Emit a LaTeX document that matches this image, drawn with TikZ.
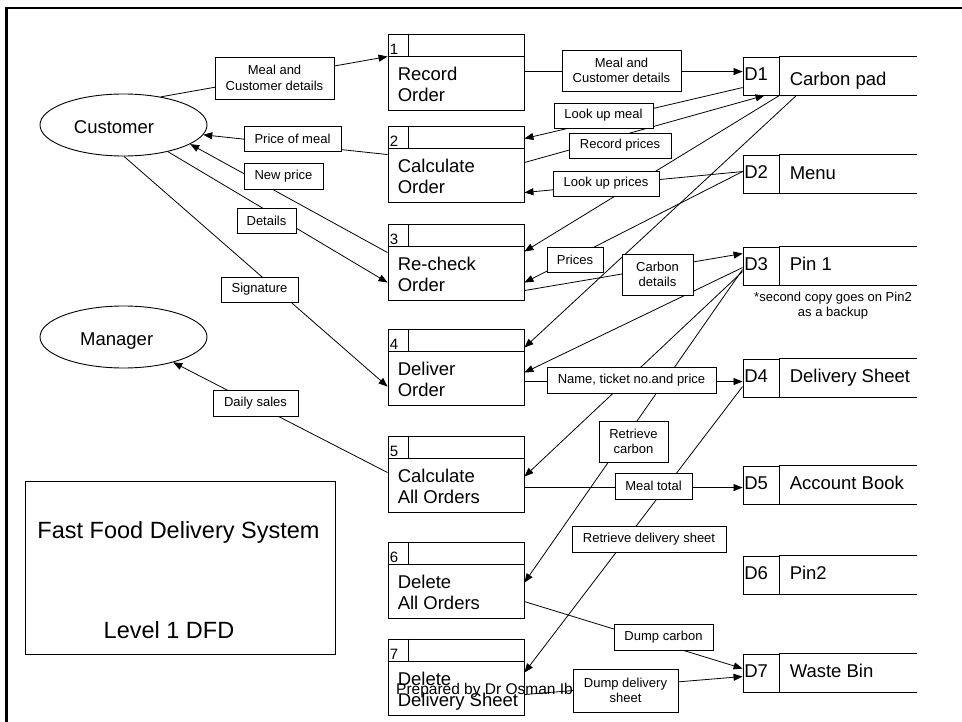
\documentclass[tikz,border=0pt]{standalone}
\usepackage{fontspec}
\setmainfont{Liberation Sans}
\usetikzlibrary{arrows.meta,calc,shapes.geometric}

\tikzset{
  ln/.style={line width=0.9pt},
  proc/.style={draw, line width=0.9pt, minimum width=136pt, minimum height=76pt, inner sep=0pt},
  sid/.style={draw, line width=0.9pt, minimum width=36pt, minimum height=38pt, inner sep=0pt},
  ptxt/.style={inner sep=0pt, font=\fontsize{18.5}{22}\selectfont},
  ntxt/.style={inner sep=0pt, font=\fontsize{15}{18}\selectfont},
  ent/.style={draw, ellipse, line width=0.9pt, minimum width=167pt, minimum height=62pt, inner sep=0pt},
  lbl/.style={draw, fill=white, line width=0.9pt, inner sep=0pt, align=center, font=\fontsize{13}{15.6}\selectfont},
  flow/.style={line width=0.8pt, -{Triangle[length=9pt,width=7pt]}},
  smalltxt/.style={inner sep=0pt, font=\fontsize{13}{15}\selectfont},
}

% process: name, number, top edge, first line, second line
\newcommand\procbox[5]{%
  \node[proc] (#1) at (456,#3+38) {};
  \draw[ln] ($(#1.north west)+(0,23)$) -- ($(#1.north east)+(0,23)$);
  \draw[ln] ($(#1.north west)+(21,0)$) -- ($(#1.north west)+(21,23)$);
  \node[ntxt, anchor=base west] (#1-no) at ($(#1.north west)+(2,21)$) {#2};
  \node[ptxt, anchor=base west] (#1-a) at ($(#1.north west)+(10,47)$) {#4};
  \node[ptxt, anchor=base west] (#1-b) at ($(#1.north west)+(10,68)$) {#5};
}

% data store: name, id, top edge, title, title baseline offset
\newcommand\storebox[5]{%
  \node[sid] (#1) at (761,#3+19) {};
  \draw[ln] (#1.north east) -- ++(138,0);
  \draw[ln] (#1.south east) -- ++(138,0);
  \node[ptxt, anchor=base west] (#1-id) at ($(#1.north west)+(1.5,23.5)$) {#2};
  \node[ptxt, anchor=base west] (#1-t) at ($(#1.north west)+(47,#5)$) {#4};
}

\begin{document}
\begin{tikzpicture}[x=1pt,y=-1pt]
\useasboundingbox (0,0) rectangle (962,722);
\fill[white] (0,0) rectangle (962,722);

% outer frame
\draw[line width=2.8pt] (6.7,722) -- (6.7,8) -- (962,8);

% external entities
\node[ent] (cust) at (123.5,125) {};
\node[ptxt, anchor=base] (cust-t) at (114,134) {Customer};
\node[ent] (mgr) at (123.5,337) {};
\node[ptxt, anchor=base] (mgr-t) at (116.7,345) {Manager};

% processes
\procbox{p1}{1}{34}{Record}{Order}
\procbox{p2}{2}{126}{Calculate}{Order}
\procbox{p3}{3}{224}{Re-check}{Order}
\procbox{p4}{4}{329}{Deliver}{Order}
\procbox{p5}{5}{436}{Calculate}{All Orders}
\procbox{p6}{6}{542}{Delete}{All Orders}
\procbox{p7}{7}{639}{Delete}{Delivery Sheet}

% data stores
\storebox{d1}{D1}{57}{Carbon pad}{29}
\storebox{d2}{D2}{155}{Menu}{24.5}
\storebox{d3}{D3}{247}{Pin 1}{23.5}
\storebox{d4}{D4}{359}{Delivery Sheet}{24}
\storebox{d5}{D5}{466}{Account Book}{24}
\storebox{d6}{D6}{556}{Pin2}{24}
\storebox{d7}{D7}{654}{Waste Bin}{24}

\node[smalltxt, anchor=base] (note-a) at (833,301.5) {*second copy goes on Pin2};
\node[smalltxt, anchor=base] (note-b) at (833,316.5) {as a backup};

% title block
\node[draw, line width=0.9pt, minimum width=310pt, minimum height=173pt, inner sep=0pt] (ttl) at (180,567.5) {};
\node[inner sep=0pt, anchor=base, font=\fontsize{23.5}{28}\selectfont] (ttl-a) at (178.5,538.3) {Fast Food Delivery System};
\node[inner sep=0pt, anchor=base, font=\fontsize{23.5}{28}\selectfont] (ttl-b) at (169,638) {Level 1 DFD};

\node[inner sep=0pt, anchor=base west, font=\fontsize{15.5}{18}\selectfont] (author) at (396,694.3) {Prepared by Dr Osman Ib};

% data flows
\draw[flow] (cust.37) -- ($(p1.north west)+(0,23)$);
\draw[flow] ($(p2.north west)+(0,29)$) -- (cust.-7);
\draw[flow] ($(p3.north west)+(0,29)$) -- (cust.-16);
\draw[flow] (cust.-31) -- ($(p3.north west)+(0,59)$);
\draw[flow] (cust.-89) -- ($(p4.north west)+(0,58)$);
\draw[flow] ($(p5.north west)+(0,37)$) -- (mgr.-27);
\draw[flow] ($(p1.north east)+(0,38)$) -- ($(d1.north west)+(0,15)$);
\draw[flow] ($(d1.north west)+(0,31)$) -- ($(p2.north east)+(0,13)$);
\draw[flow] ($(p2.north east)+(0,37)$) -- ($(d1.south west)+(22,0)$);
\draw[flow] ($(d2.north west)+(0,17)$) -- ($(p2.north east)+(0,67)$);
\draw[flow] (d1.south east) -- ($(p3.north east)+(0,28)$);
\draw[flow] ($(d1.south east)+(17,0)$) -- ($(p4.north east)+(0,19)$);
\draw[flow] ($(d2.north west)+(0,17)$) -- ($(p3.north east)+(0,59)$);
\draw[flow] ($(p3.north east)+(0,67)$) -- ($(d3.north west)+(0,7)$);
\draw[flow] ($(d3.north west)+(0,21)$) -- ($(p4.north east)+(0,44)$);
\draw[flow] ($(d3.north west)+(0,25)$) -- ($(p5.north east)+(0,41)$);
\draw[flow] ($(d3.north west)+(0,23)$) -- ($(p6.north east)+(0,41)$);
\draw[flow] ($(p4.north east)+(0,53)$) -- ($(d4.north west)+(0,23)$);
\draw[flow] ($(d4.north west)+(0,28)$) -- ($(p7.north east)+(0,34)$);
\draw[flow] ($(p5.north east)+(0,52)$) -- ($(d5.north west)+(0,22)$);
\draw[flow] ($(p6.north east)+(0,60)$) -- ($(d7.north west)+(0,15)$);
\draw[flow] ($(p7.north east)+(0,56)$) -- ($(d7.north west)+(0,23)$);

% flow labels
\node[lbl, minimum width=119pt, minimum height=42pt] (l1) at (274.5,78) {Meal and\\Customer details};
\node[lbl, minimum width=97pt, minimum height=25pt] (l2) at (292.5,138.5) {Price of meal};
\node[lbl, minimum width=79pt, minimum height=26pt] (l3) at (283.5,176) {New price};
\node[lbl, minimum width=59pt, minimum height=25pt] (l4) at (266.5,220.5) {Details};
\node[lbl, minimum width=77pt, minimum height=25pt] (l5) at (259.5,289.5) {Signature};
\node[lbl, minimum width=85pt, minimum height=26pt] (l6) at (255.5,403) {Daily sales};
\node[lbl, minimum width=119pt, minimum height=41pt] (l7) at (621.5,70.5) {Meal and\\Customer details};
\node[lbl, minimum width=99pt, minimum height=25pt] (l8) at (603.5,115.5) {Look up meal};
\node[lbl, minimum width=102pt, minimum height=25pt] (l9) at (620,145.5) {Record prices};
\node[lbl, minimum width=106pt, minimum height=25pt] (l10) at (606,183.5) {Look up prices};
\node[lbl, minimum width=56pt, minimum height=25pt] (l11) at (575,259.5) {Prices};
\node[lbl, minimum width=71pt, minimum height=41pt] (l12) at (657.5,274.5) {Carbon\\details};
\node[lbl, minimum width=169pt, minimum height=26pt] (l13) at (631.5,380) {Name, ticket no.and price};
\node[lbl, minimum width=69pt, minimum height=41pt] (l14) at (633.5,441.5) {Retrieve\\carbon};
\node[lbl, minimum width=77pt, minimum height=26pt] (l15) at (653.5,486) {Meal total};
\node[lbl, minimum width=154pt, minimum height=26pt] (l16) at (649,539) {Retrieve delivery sheet};
\node[lbl, minimum width=99pt, minimum height=26pt] (l17) at (663.5,637) {Dump carbon};
\node[lbl, minimum width=105pt, minimum height=43pt] (l18) at (625.5,690.5) {Dump delivery\\sheet};
\end{tikzpicture}
\end{document}
